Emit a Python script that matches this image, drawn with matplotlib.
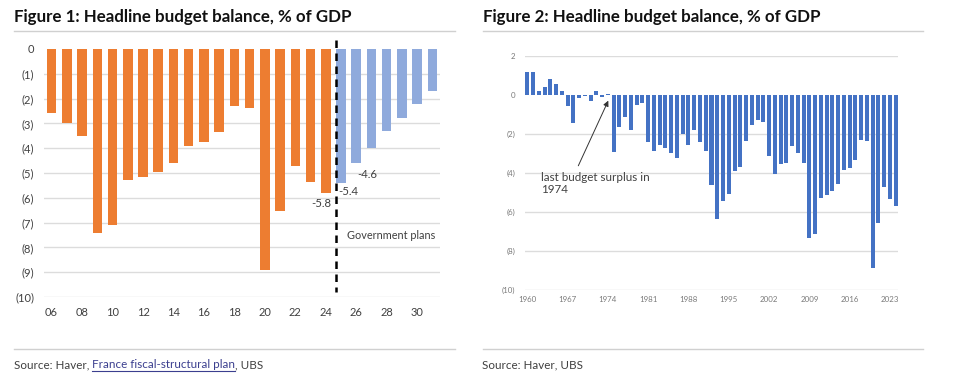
import matplotlib
matplotlib.use('Agg')
import matplotlib.pyplot as plt
from matplotlib.lines import Line2D

# ---------------- data ----------------
actual_years = list(range(2006, 2025))
actual_balance = [-2.6, -3.0, -3.5, -7.4, -7.1, -5.3, -5.15, -4.95, -4.6, -3.9,
                  -3.75, -3.35, -2.3, -2.4, -8.9, -6.55, -4.7, -5.35, -5.8]
plan_years = list(range(2025, 2032))
plan_balance = [-5.4, -4.6, -4.0, -3.3, -2.8, -2.2, -1.7]
labeled_years = [2024, 2025, 2026]
fig1_yticks = [0, -1, -2, -3, -4, -5, -6, -7, -8, -9, -10]
fig1_ylabels = ['0', '(1)', '(2)', '(3)', '(4)', '(5)', '(6)', '(7)', '(8)', '(9)', '(10)']
fig1_xticks = list(range(2006, 2031, 2))
fig1_xlabels = ['06', '08', '10', '12', '14', '16', '18', '20', '22', '24', '26', '28', '30']

hist_years = list(range(1960, 2025))
hist_balance = [1.18, 1.16, 0.18, 0.39, 0.84, 0.56, 0.22, -0.55, -1.44, -0.17,
                -0.03, -0.31, 0.22, -0.08, 0.07, -2.94, -1.64, -1.13, -1.81, -0.50,
                -0.41, -2.41, -2.87, -2.56, -2.74, -2.99, -3.21, -2.02, -2.56, -1.78,
                -2.43, -2.85, -4.62, -6.36, -5.42, -5.09, -3.88, -3.68, -2.38, -1.52,
                -1.30, -1.40, -3.15, -4.07, -3.54, -3.49, -2.63, -2.97, -3.49, -7.33,
                -7.11, -5.26, -5.13, -4.92, -4.55, -3.86, -3.73, -3.35, -2.29, -2.38,
                -8.89, -6.55, -4.70, -5.33, -5.71]
fig2_yticks = [2, 0, -2, -4, -6, -8, -10]
fig2_ylabels = ['2', '0', '(2)', '(4)', '(6)', '(8)', '(10)']
fig2_xticks = list(range(1960, 2024, 7))

title1 = 'Figure 1: Headline budget balance, % of GDP'
title2 = 'Figure 2: Headline budget balance, % of GDP'

# ---------------- style ----------------
W, H = 960, 376
ORANGE = '#ED7D31'
LBLUE = '#8FAADC'
BLUE = '#4472C4'
DARK = '#404040'
GREY = '#7A7A7A'
GRID = '#DCDCDC'
RULE = '#D0D0D0'
FONT = 'Lato'

plt.rcParams['font.family'] = [FONT, 'DejaVu Sans']

fig = plt.figure(figsize=(W / 100, H / 100), dpi=100)
renderer = fig.canvas.get_renderer()


def fx(px):
    return px / W


def fy(py):
    return 1 - py / H


def fit(t, target_px):
    w = t.get_window_extent(renderer).width
    t.set_fontsize(t.get_fontsize() * target_px / w)
    return t


def size_for(s, target_px, **kw):
    t = fig.text(0, 0, s, fontsize=10, **kw)
    w = t.get_window_extent(renderer).width
    t.remove()
    return 10 * target_px / w


def pos_axes(l, t, r, b):
    return fig.add_axes([fx(l), fy(b), fx(r) - fx(l), (b - t) / H])


# rules
for (x0, x1) in [(14, 455), (483, 923)]:
    for yy in (31, 349):
        fig.add_artist(Line2D([fx(x0), fx(x1)], [fy(yy), fy(yy)], color=RULE, lw=1))

# titles
t1 = fig.text(fx(14), fy(22.3), title1, fontsize=11, fontweight='bold', color='#111111', va='baseline')
fit(t1, 338)
t2 = fig.text(fx(483), fy(22.3), title2, fontsize=t1.get_fontsize(), fontweight='bold',
              color='#111111', va='baseline')

# sources
s2 = fig.text(fx(482), fy(368.3), 'Source: Haver, UBS', fontsize=8.5, color=DARK, va='baseline')
fit(s2, 101)
fs_src = s2.get_fontsize()
parts = [('Source: Haver, ', DARK, False), ('France fiscal-structural plan', '#3B3F8F', True), (', UBS', DARK, False)]
xc = 14
for txt, col, link in parts:
    tt = fig.text(fx(xc), fy(368.3), txt, fontsize=fs_src, color=col, va='baseline')
    bb = tt.get_window_extent(renderer)
    if link:
        fig.add_artist(Line2D([fx(xc), fx(xc + bb.width)], [fy(370.5), fy(370.5)], color=col, lw=0.8))
    xc += bb.width

fs_tick1 = size_for('(10)', 19)
fs_tick2 = size_for('1960', 18.3)
fs_gov = size_for('Government plans', 88)
fs_note = size_for('last budget surplus in', 108)
fs_lab = size_for('-5.8', 20)

# ---------------- Figure 1 ----------------
ax1 = pos_axes(44, 40, 440, 297)
bw = 0.63
ax1.bar(actual_years, actual_balance, width=bw, color=ORANGE, zorder=3)
ax1.bar(plan_years, plan_balance, width=bw, color=LBLUE, zorder=3)
ax1.set_xlim(2005.5, 2031.5)
ax1.set_ylim(-10, 0.36)
for v in fig1_yticks[1:]:
    ax1.axhline(v, color=GRID, lw=1, zorder=1)
ax1.set_yticks(fig1_yticks)
ax1.set_yticklabels(fig1_ylabels)
ax1.set_xticks(fig1_xticks)
ax1.set_xticklabels(fig1_xlabels)
ax1.tick_params(length=0, labelsize=fs_tick1, labelcolor=DARK)
ax1.tick_params(axis='y', pad=7)
ax1.tick_params(axis='x', pad=7)
for s in ax1.spines.values():
    s.set_visible(False)

# dashed separator at left edge of first plan bar
xsep = plan_years[0] - bw / 2
ax1.plot([xsep, xsep], [0.36, -9.8], color='black', lw=1.8, ls=(0, (3, 2.2)), zorder=4, clip_on=False)

all_years = actual_years + plan_years
all_vals = actual_balance + plan_balance
offsets = {2024: (-4, -10.6), 2025: (7, -9), 2026: (10.7, -11.3)}
for yr in labeled_years:
    v = all_vals[all_years.index(yr)]
    dx, dy = offsets[yr]
    ax1.annotate(f'{v:.1f}', xy=(yr, v), xytext=(dx, dy), textcoords='offset pixels',
                 ha='center', va='center', fontsize=fs_lab, color=DARK)
ax1.text(2025.375, -7.54, 'Government plans', fontsize=fs_gov, color=DARK, ha='left', va='center')

# ---------------- Figure 2 ----------------
ax2 = pos_axes(525, 56, 898, 290)
ax2.bar(hist_years, hist_balance, width=0.7, color=BLUE, zorder=3)
ax2.set_xlim(1959.6, 2024.4)
ax2.set_ylim(-10, 2)
for v in fig2_yticks:
    if v != 0:
        ax2.axhline(v, color=GRID, lw=1, zorder=1)
ax2.set_yticks(fig2_yticks)
ax2.set_yticklabels(fig2_ylabels)
ax2.set_xticks(fig2_xticks)
ax2.tick_params(length=0, labelsize=fs_tick2, labelcolor=GREY)
ax2.tick_params(axis='y', pad=7)
ax2.tick_params(axis='x', pad=4)
for s in ax2.spines.values():
    s.set_visible(False)

ax2.annotate('', xy=(1974.07, -0.29), xytext=(1968.86, -3.63),
             arrowprops=dict(arrowstyle='-|>', color='#333333', lw=0.7, mutation_scale=8,
                             shrinkA=0, shrinkB=0), zorder=5)
ax2.text(1962.33, -3.95, 'last budget surplus in\n1974', fontsize=fs_note, color=DARK,
         ha='left', va='top', linespacing=1.1)

fig.savefig('out.png', dpi=100)
